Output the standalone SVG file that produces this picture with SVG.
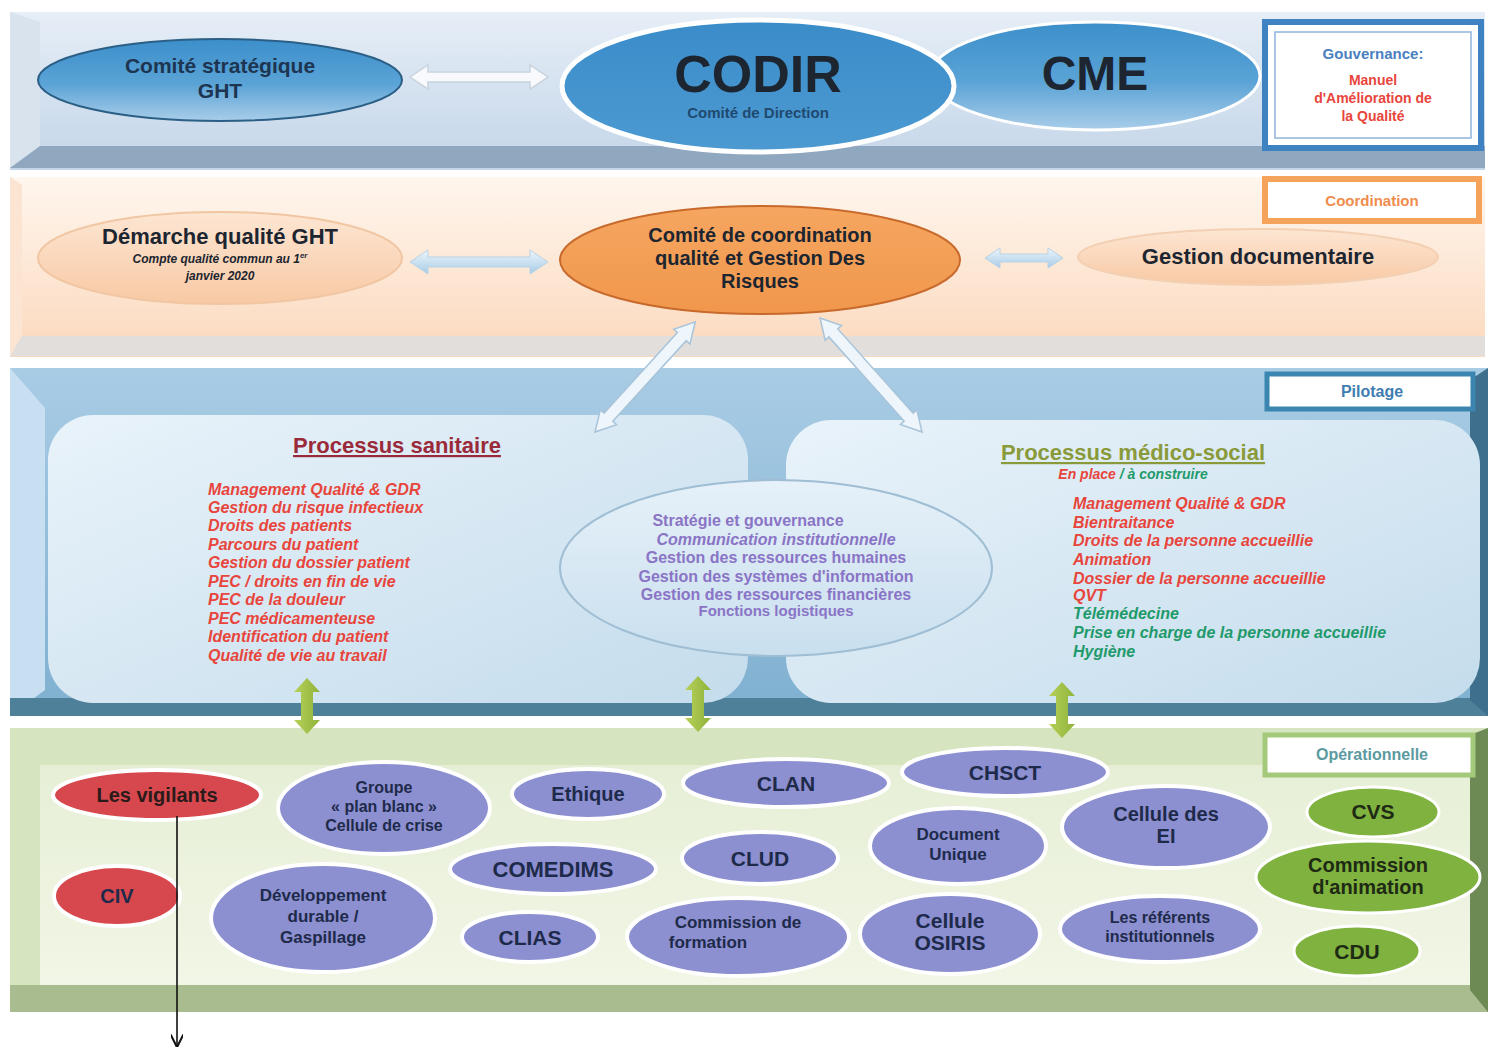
<svg xmlns="http://www.w3.org/2000/svg" width="1490" height="1050" viewBox="0 0 1490 1050">
<defs>
<linearGradient id="gTop" x1="0" y1="0" x2="0" y2="1"><stop offset="0" stop-color="#e6eef7"/><stop offset="1" stop-color="#c3d5e8"/></linearGradient>
<linearGradient id="gPeach" x1="0" y1="0" x2="0" y2="1"><stop offset="0" stop-color="#fff6ee"/><stop offset="1" stop-color="#fbd9bd"/></linearGradient>
<linearGradient id="gBlueBand" x1="0" y1="0" x2="0" y2="1"><stop offset="0" stop-color="#a9cce5"/><stop offset="1" stop-color="#7fb0d0"/></linearGradient>
<linearGradient id="gPanel" x1="0" y1="0" x2="1" y2="1"><stop offset="0" stop-color="#e9f3fa"/><stop offset="1" stop-color="#c4dcec"/></linearGradient>
<linearGradient id="gGreen" x1="0" y1="0" x2="0" y2="1"><stop offset="0" stop-color="#e6efd6"/><stop offset="1" stop-color="#f2f6e6"/></linearGradient>
<linearGradient id="gBlueEl" x1="0" y1="0" x2="0" y2="1"><stop offset="0" stop-color="#3c8fcb"/><stop offset="0.55" stop-color="#5aa3d6"/><stop offset="1" stop-color="#a9cde9"/></linearGradient>
<linearGradient id="gCodir" x1="0" y1="0" x2="0" y2="1"><stop offset="0" stop-color="#3a8cc9"/><stop offset="1" stop-color="#4d9ad2"/></linearGradient>
<linearGradient id="gPeachEl" x1="0" y1="0" x2="0" y2="1"><stop offset="0" stop-color="#fde6d3"/><stop offset="1" stop-color="#f8c9a4"/></linearGradient>
<linearGradient id="gOrange" x1="0" y1="0" x2="0" y2="1"><stop offset="0" stop-color="#f6a660"/><stop offset="1" stop-color="#f0974c"/></linearGradient>
<linearGradient id="gMid" x1="0" y1="0" x2="0" y2="1"><stop offset="0" stop-color="#e6f1f9"/><stop offset="1" stop-color="#c9dfee"/></linearGradient>
<linearGradient id="gArrowB" x1="0" y1="0" x2="0" y2="1"><stop offset="0" stop-color="#eef6fc"/><stop offset="1" stop-color="#a7cbe6"/></linearGradient>
<linearGradient id="gArrowG" x1="0" y1="0" x2="1" y2="0"><stop offset="0" stop-color="#b7d05a"/><stop offset="1" stop-color="#8fb33a"/></linearGradient>
<marker id="mArr" viewBox="0 0 10 10" refX="9" refY="5" markerWidth="8" markerHeight="8" orient="auto"><path d="M0,0 L10,5 L0,10" fill="none" stroke="#111" stroke-width="1.6"/></marker>
<style>
text{font-family:"Liberation Sans",Arial,sans-serif;font-weight:bold;text-anchor:middle}
.purple{fill:#8c8fd0;stroke:#ffffff;stroke-width:4}
.red{fill:#d6484d;stroke:#ffffff;stroke-width:4}
.green{fill:#7fb23e;stroke:#ffffff;stroke-width:3}
.nt{fill:#1e2a4a}
.ntg{fill:#1e2a14}
.lst{font-style:italic;text-anchor:start}
.r{fill:#e8453c}
.gr{fill:#1f9a6a}
.pu{fill:#8a74c6}
</style>
</defs>

<!-- Bands -->
<g id="band-gouvernance">
<rect x="10" y="12" width="1475" height="158" fill="url(#gTop)"/>
<rect x="10" y="146" width="1475" height="22" fill="#8fa7bf"/>
<polygon points="10,12 40,22 40,146 10,168" fill="#d8e3ee"/>
</g>
<g id="band-coordination">
<rect x="10" y="177" width="1475" height="180" fill="url(#gPeach)"/>
<rect x="10" y="336" width="1475" height="20" fill="#e2dedb"/>
<polygon points="10,177 22,185 22,336 10,356" fill="#fbe4d2"/>
</g>
<g id="band-pilotage">
<rect x="10" y="368" width="1478" height="348" fill="url(#gBlueBand)"/>
<polygon points="10,368 45,408 45,690 10,716" fill="#c7dff0"/>
<rect x="10" y="698" width="1478" height="18" fill="#4f8099"/>
<polygon points="1470,380 1488,368 1488,716 1470,700" fill="#3e6f8c"/>
<rect x="48" y="415" width="700" height="288" rx="45" fill="url(#gPanel)"/>
<rect x="786" y="420" width="694" height="283" rx="45" fill="url(#gPanel)"/>
</g>
<g id="band-operationnelle">
<rect x="10" y="728" width="1478" height="284" fill="#d6e5c0"/>
<rect x="40" y="765" width="1430" height="222" fill="url(#gGreen)"/>
<rect x="10" y="985" width="1478" height="27" fill="#a8bc8f"/>
<polygon points="1470,735 1488,728 1488,1012 1470,990" fill="#6d8a55"/>
</g>

<!-- Top band nodes -->
<g id="n-comite-strategique">
<ellipse cx="220" cy="80" rx="182" ry="41" fill="url(#gBlueEl)" stroke="#2b5f86" stroke-width="2"/>
<text x="220" y="73" fill="#1d3550" font-size="21">Comité stratégique</text>
<text x="220" y="98" fill="#1d3550" font-size="21">GHT</text>
</g>
<g id="n-cme">
<ellipse cx="1095" cy="76" rx="165" ry="54" fill="url(#gBlueEl)" stroke="#ffffff" stroke-width="3"/>
<text x="1095" y="90" fill="#1c2530" font-size="48" font-weight="normal">CME</text>
</g>
<g id="n-codir">
<ellipse cx="758" cy="86" rx="196" ry="66" fill="url(#gCodir)" stroke="#ffffff" stroke-width="5"/>
<text x="758" y="92" fill="#1c2530" font-size="52">CODIR</text>
<text x="758" y="118" fill="#1f4a70" font-size="15">Comité de Direction</text>
</g>
<g id="n-gouvernance">
<rect x="1265" y="22" width="216" height="126" fill="#ffffff" stroke="#3f82c2" stroke-width="6"/>
<rect x="1275" y="32" width="196" height="106" fill="none" stroke="#8fb4db" stroke-width="1.5"/>
<text x="1373" y="59" fill="#4a7fbf" font-size="15" font-weight="normal">Gouvernance:</text>
<text x="1373" y="85" fill="#e8453c" font-size="14">Manuel</text>
<text x="1373" y="103" fill="#e8453c" font-size="14">d'Amélioration de</text>
<text x="1373" y="121" fill="#e8453c" font-size="14">la Qualité</text>
</g>

<!-- Coordination band nodes -->
<g id="n-demarche">
<ellipse cx="220" cy="258" rx="182" ry="46" fill="url(#gPeachEl)" stroke="#f1c6a3" stroke-width="2"/>
<text x="220" y="244" fill="#1c2530" font-size="22">Démarche qualité GHT</text>
<text x="220" y="263" fill="#1c2530" font-size="12" font-style="italic">Compte qualité commun au 1<tspan dy="-5" font-size="8">er</tspan></text>
<text x="220" y="280" fill="#1c2530" font-size="12" font-style="italic">janvier 2020</text>
</g>
<g id="n-comite-coordination">
<ellipse cx="760" cy="260" rx="200" ry="54" fill="url(#gOrange)" stroke="#c86a2c" stroke-width="2"/>
<text x="760" y="242" fill="#1c2530" font-size="20">Comité de coordination</text>
<text x="760" y="265" fill="#1c2530" font-size="20">qualité et Gestion Des</text>
<text x="760" y="288" fill="#1c2530" font-size="20">Risques</text>
</g>
<g id="n-gestion-doc">
<ellipse cx="1258" cy="257" rx="180" ry="28" fill="url(#gPeachEl)" stroke="#f3d0b3" stroke-width="2"/>
<text x="1258" y="264" fill="#1c2530" font-size="22">Gestion documentaire</text>
</g>
<g id="n-coordination">
<rect x="1265" y="179" width="214" height="42" fill="#ffffff" stroke="#f5a25a" stroke-width="6"/>
<text x="1372" y="206" fill="#f08c4c" font-size="15" font-weight="normal">Coordination</text>
</g>

<!-- Pilotage band -->
<g id="n-pilotage">
<rect x="1267" y="374" width="206" height="35" fill="#ffffff" stroke="#3a86b0" stroke-width="5"/>
<text x="1372" y="397" fill="#3f7db1" font-size="16">Pilotage</text>
</g>
<g id="n-processus-sanitaire">
<text x="397" y="453" fill="#9a2a3a" font-size="22" text-decoration="underline">Processus sanitaire</text>
<g font-size="16">
<text x="208" y="495" class="lst r">Management Qualité &amp; GDR</text>
<text x="208" y="513" class="lst r">Gestion du risque infectieux</text>
<text x="208" y="531" class="lst r">Droits des patients</text>
<text x="208" y="550" class="lst r">Parcours du patient</text>
<text x="208" y="568" class="lst r">Gestion du dossier patient</text>
<text x="208" y="587" class="lst r">PEC / droits en fin de vie</text>
<text x="208" y="605" class="lst r">PEC de la douleur</text>
<text x="208" y="624" class="lst r">PEC médicamenteuse</text>
<text x="208" y="642" class="lst r">Identification du patient</text>
<text x="208" y="661" class="lst r">Qualité de vie au travail</text>
</g>
</g>
<g id="n-support">
<ellipse cx="776" cy="568" rx="216" ry="88" fill="url(#gMid)" stroke="#9fbdd3" stroke-width="2"/>
<g font-size="16">
<text x="748" y="526" class="pu">Stratégie  et gouvernance</text>
<text x="776" y="545" class="pu" font-style="italic">Communication institutionnelle</text>
<text x="776" y="563" class="pu">Gestion des ressources humaines</text>
<text x="776" y="582" class="pu">Gestion des systèmes d'information</text>
<text x="776" y="600" class="pu">Gestion des ressources financières</text>
<text x="776" y="616" class="pu" font-size="15">Fonctions logistiques</text>
</g>
</g>
<g id="n-processus-medico-social">
<text x="1133" y="460" fill="#8a9a3a" font-size="22" text-decoration="underline">Processus médico-social</text>
<text x="1133" y="479" font-size="14" font-style="italic"><tspan class="r">En place</tspan><tspan class="gr"> / à construire</tspan></text>
<g font-size="16">
<text x="1073" y="509" class="lst r">Management Qualité &amp; GDR</text>
<text x="1073" y="528" class="lst r">Bientraitance</text>
<text x="1073" y="546" class="lst r">Droits de la personne accueillie</text>
<text x="1073" y="565" class="lst r">Animation</text>
<text x="1073" y="584" class="lst r">Dossier de la personne accueillie</text>
<text x="1073" y="601" class="lst r">QVT</text>
<text x="1073" y="619" class="lst gr">Télémédecine</text>
<text x="1073" y="638" class="lst gr">Prise en charge de la personne accueillie</text>
<text x="1073" y="657" class="lst gr">Hygiène</text>
</g>
</g>

<!-- Opérationnelle band -->
<g id="n-operationnelle">
<rect x="1265" y="735" width="208" height="40" fill="#ffffff" stroke="#a5c97a" stroke-width="5"/>
<text x="1372" y="760" fill="#5a9aa0" font-size="16" font-weight="normal">Opérationnelle</text>
</g>
<g id="n-vigilants"><ellipse cx="157" cy="795" rx="104" ry="25" class="red"/><text x="157" y="802" font-size="20" fill="#2a1a1a">Les vigilants</text></g>
<g id="n-civ"><ellipse cx="117" cy="896" rx="63" ry="30" class="red"/><text x="117" y="903" class="nt" font-size="20">CIV</text></g>
<g id="n-plan-blanc"><ellipse cx="384" cy="808" rx="106" ry="46" class="purple"/>
<text x="384" y="793" class="nt" font-size="16">Groupe</text>
<text x="384" y="812" class="nt" font-size="16">« plan blanc »</text>
<text x="384" y="831" class="nt" font-size="16">Cellule de crise</text></g>
<g id="n-dev-durable"><ellipse cx="323" cy="918" rx="112" ry="54" class="purple"/>
<text x="323" y="901" class="nt" font-size="17">Développement</text>
<text x="323" y="922" class="nt" font-size="17">durable /</text>
<text x="323" y="943" class="nt" font-size="17">Gaspillage</text></g>
<g id="n-ethique"><ellipse cx="588" cy="794" rx="76" ry="25" class="purple"/><text x="588" y="801" class="nt" font-size="20">Ethique</text></g>
<g id="n-comedims"><ellipse cx="553" cy="869" rx="103" ry="25" class="purple"/><text x="553" y="877" class="nt" font-size="22">COMEDIMS</text></g>
<g id="n-clias"><ellipse cx="530" cy="937" rx="68" ry="25" class="purple"/><text x="530" y="945" class="nt" font-size="21">CLIAS</text></g>
<g id="n-clan"><ellipse cx="786" cy="783" rx="103" ry="24" class="purple"/><text x="786" y="791" class="nt" font-size="21">CLAN</text></g>
<g id="n-clud"><ellipse cx="760" cy="858" rx="78" ry="26" class="purple"/><text x="760" y="866" class="nt" font-size="21">CLUD</text></g>
<g id="n-commission-formation"><ellipse cx="738" cy="937" rx="111" ry="39" class="purple"/>
<text x="738" y="928" class="nt" font-size="17">Commission  de</text>
<text x="708" y="948" class="nt" font-size="17">formation</text></g>
<g id="n-chsct"><ellipse cx="1005" cy="772" rx="103" ry="24" class="purple"/><text x="1005" y="780" class="nt" font-size="21">CHSCT</text></g>
<g id="n-document-unique"><ellipse cx="958" cy="846" rx="88" ry="38" class="purple"/>
<text x="958" y="840" class="nt" font-size="17">Document</text>
<text x="958" y="860" class="nt" font-size="17">Unique</text></g>
<g id="n-cellule-ei"><ellipse cx="1166" cy="827" rx="104" ry="41" class="purple"/>
<text x="1166" y="821" class="nt" font-size="20">Cellule des</text>
<text x="1166" y="843" class="nt" font-size="20">EI</text></g>
<g id="n-osiris"><ellipse cx="950" cy="934" rx="90" ry="40" class="purple"/>
<text x="950" y="928" class="nt" font-size="21">Cellule</text>
<text x="950" y="950" class="nt" font-size="21">OSIRIS</text></g>
<g id="n-referents"><ellipse cx="1160" cy="929" rx="100" ry="33" class="purple"/>
<text x="1160" y="923" class="nt" font-size="16">Les référents</text>
<text x="1160" y="942" class="nt" font-size="16">institutionnels</text></g>
<g id="n-cvs"><ellipse cx="1373" cy="812" rx="66" ry="25" class="green"/><text x="1373" y="819" class="ntg" font-size="21">CVS</text></g>
<g id="n-commission-animation"><ellipse cx="1368" cy="877" rx="112" ry="36" class="green"/>
<text x="1368" y="872" class="ntg" font-size="20">Commission</text>
<text x="1368" y="894" class="ntg" font-size="20">d'animation</text></g>
<g id="n-cdu"><ellipse cx="1357" cy="951" rx="63" ry="25" class="green"/><text x="1357" y="959" class="ntg" font-size="21">CDU</text></g>

<!-- Connectors -->
<g id="connectors">
<path d="M410,77 L428,65 L428,72 L530,72 L530,65 L548,77 L530,89 L530,82 L428,82 L428,89 Z" fill="#f7f9fc" stroke="#c8d3de" stroke-width="1.5"/>
<path d="M410,262 L428,250 L428,257 L530,257 L530,250 L548,262 L530,274 L530,267 L428,267 L428,274 Z" fill="url(#gArrowB)" stroke="#b8d2e6" stroke-width="1"/>
<path d="M985,258 L1000,248 L1000,254 L1048,254 L1048,248 L1063,258 L1048,268 L1048,262 L1000,262 L1000,268 Z" fill="url(#gArrowB)" stroke="#b8d2e6" stroke-width="1"/>
<g transform="translate(595,432) rotate(-47.7)">
<path d="M0,0 L20,-11 L20,-6 L129,-6 L129,-11 L149,0 L129,11 L129,6 L20,6 L20,11 Z" fill="#eef5fb" stroke="#a8c4da" stroke-width="1.5"/>
</g>
<g transform="translate(820,318) rotate(48.2)">
<path d="M0,0 L20,-11 L20,-6 L133,-6 L133,-11 L153,0 L133,11 L133,6 L20,6 L20,11 Z" fill="#eef5fb" stroke="#a8c4da" stroke-width="1.5"/>
</g>
<path d="M307,678 L320,692 L313,692 L313,720 L320,720 L307,734 L294,720 L301,720 L301,692 L294,692 Z" fill="url(#gArrowG)"/>
<path d="M698,676 L711,690 L704,690 L704,718 L711,718 L698,732 L685,718 L692,718 L692,690 L685,690 Z" fill="url(#gArrowG)"/>
<path d="M1062,682 L1075,696 L1068,696 L1068,724 L1075,724 L1062,738 L1049,724 L1056,724 L1056,696 L1049,696 Z" fill="url(#gArrowG)"/>
<line x1="177" y1="816" x2="177" y2="1046" stroke="#111" stroke-width="1.6" marker-end="url(#mArr)"/>
</g>
</svg>
